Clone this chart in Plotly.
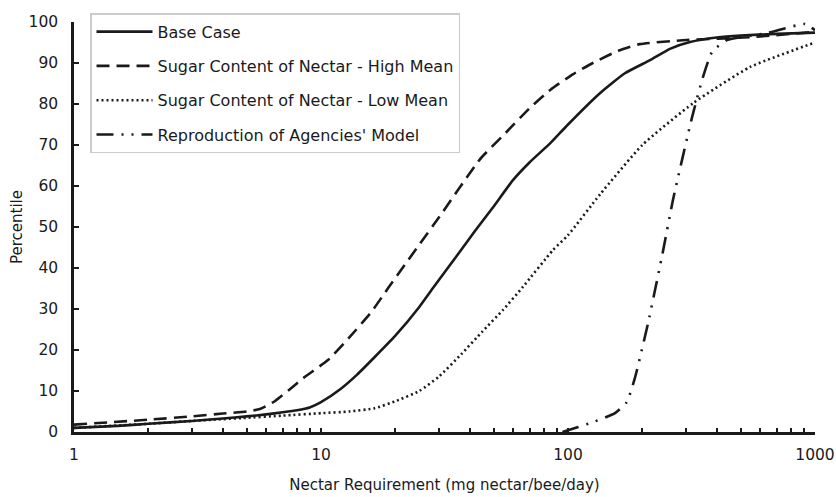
import plotly.graph_objects as go

# ---- data ----
base_x = [1, 1.5, 2, 3, 4, 5, 6, 7, 8, 9, 10, 12, 14, 16.5, 20, 25, 28.4, 35, 42, 50, 60, 70, 85, 100, 135, 170, 215, 260, 312, 400, 500, 700, 1000]
base_y = [1.0, 1.5, 2.0, 2.7, 3.3, 3.8, 4.3, 4.8, 5.3, 6.0, 7.3, 10.5, 14.0, 18.3, 23.5, 30.5, 35.1, 42.5, 49.0, 55.0, 61.5, 65.8, 70.5, 75.0, 82.7, 87.5, 90.7, 93.5, 95.1, 96.2, 96.7, 97.1, 97.4]

high_x = [1, 2, 3, 4, 5, 5.65, 6.5, 7.4, 8.5, 10.7, 13, 16, 18.7, 25, 30, 44, 55, 70, 85, 105, 126, 160, 195, 300, 545, 1000]
high_y = [1.8, 3.0, 3.8, 4.5, 5.0, 5.6, 7.5, 10.2, 13.2, 17.6, 23.0, 29.3, 35.1, 45.7, 52.3, 66.5, 72.5, 79.0, 83.5, 87.3, 90.0, 93.0, 94.6, 95.6, 96.3, 97.6]

low_x = [1, 2, 3, 4.8, 7, 10.1, 13, 16.5, 20, 25, 30, 37, 45, 54.6, 65.7, 87, 100, 135, 200, 321, 545, 1000]
low_y = [1.0, 2.0, 2.7, 3.4, 4.0, 4.6, 5.0, 5.8, 7.5, 10.0, 13.5, 19.0, 24.5, 29.8, 35.4, 44.4, 48.0, 58.0, 70.0, 80.2, 89.0, 95.0]

agency_x = [95, 110, 126, 155, 173, 187, 211, 243, 266, 318, 352, 383, 440, 640, 911, 1000]
agency_y = [0.0, 1.2, 2.4, 4.6, 7.3, 13.4, 26.6, 44.4, 56.6, 76.8, 86.6, 92.7, 95.6, 97.3, 99.5, 98.0]

names = ["Base Case",
         "Sugar Content of Nectar - High Mean",
         "Sugar Content of Nectar - Low Mean",
         "Reproduction of Agencies' Model"]

x_ticks = [1, 2, 3, 4, 5, 6, 7, 8, 9, 10, 20, 30, 40, 50, 60, 70, 80, 90,
           100, 200, 300, 400, 500, 600, 700, 800, 900, 1000]
x_ticktext = [str(v) if v in (1, 10, 100, 1000) else "" for v in x_ticks]
y_ticks = [0, 10, 20, 30, 40, 50, 60, 70, 80, 90, 100]

FONT = "DejaVu Sans, Liberation Sans, Arial, sans-serif"
INK = "#1a1a1a"

series = [
    (base_x, base_y, "solid"),
    (high_x, high_y, "13px,7px"),
    (low_x, low_y, "2px,3px"),
    (agency_x, agency_y, "17px,8px,2px,8px,2px,8px"),
]

fig = go.Figure()
for i, ((xs, ys, dash), nm) in enumerate(zip(series, names)):
    fig.add_trace(go.Scatter(
        x=xs, y=ys, mode="lines", name=nm, legendgroup=f"g{i}",
        line=dict(color=INK, width=2.6, dash=dash, shape="spline", smoothing=0.5),
    ))

fig.update_layout(
    width=836, height=497,
    margin=dict(l=74, r=21, t=22, b=65),
    paper_bgcolor="white", plot_bgcolor="white",
    font=dict(family=FONT, size=15, color=INK),
    showlegend=True,
    legend=dict(
        x=0.0216, y=0.68, xanchor="left", yanchor="bottom",
        bgcolor="white", bordercolor="#cccccc", borderwidth=1.5,
        font=dict(family=FONT, size=16, color=INK),
        tracegroupgap=10.5, itemwidth=56,
    ),
    xaxis=dict(
        type="log", range=[0, 3], automargin=False,
        tickmode="array", tickvals=x_ticks, ticktext=x_ticktext,
        ticks="inside", ticklen=4, tickwidth=2, tickcolor=INK,
        showline=True, linecolor=INK, linewidth=2.5,
        showgrid=False, zeroline=False,
        tickfont=dict(size=15.5), ticklabelstandoff=7,
        title=dict(text="Nectar Requirement (mg nectar/bee/day)", font=dict(size=15), standoff=17),
    ),
    yaxis=dict(
        range=[0, 100], automargin=False, tickmode="array", tickvals=y_ticks,
        ticks="inside", ticklen=5, tickwidth=2, tickcolor=INK,
        showline=True, linecolor=INK, linewidth=2.5,
        showgrid=False, zeroline=False,
        tickfont=dict(size=15.5), ticklabelstandoff=10,
        title=dict(text="Percentile", font=dict(size=15), standoff=3),
    ),
)

fig.write_html("out.html",
               config={"displayModeBar": False},
               post_script="document.body.style.margin='0';document.body.style.overflow='hidden';")
